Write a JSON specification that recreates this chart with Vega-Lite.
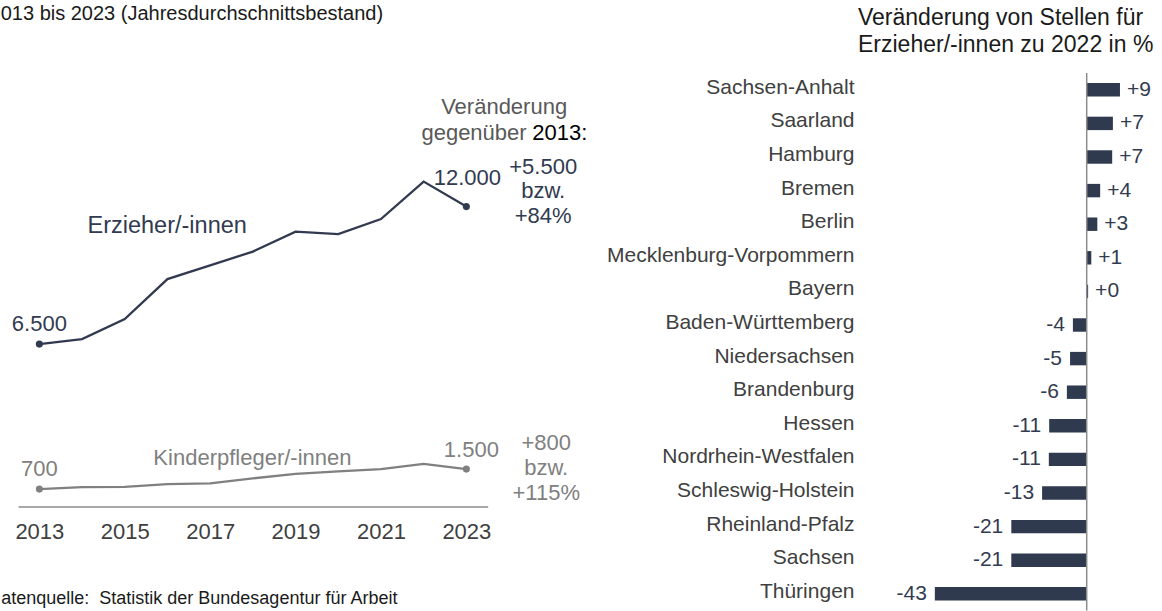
{
  "$schema": "https://vega.github.io/schema/vega-lite/v6.json",
  "padding": {"left": 0, "top": 4, "right": 0, "bottom": 0},
  "autosize": {"type": "pad"},
  "config": {
    "font": "Liberation Sans",
    "view": {"stroke": null},
    "locale": {"number": {"decimal": ",", "thousands": ".", "grouping": [3], "currency": ["", " €"], "minus": "-"}}
  },
  "bounds": "flush",
  "spacing": 421.7,
  "datasets": {
    "jobs": [
      {"year": 2013, "series": "Erzieher/-innen", "value": 6500},
      {"year": 2014, "series": "Erzieher/-innen", "value": 6700},
      {"year": 2015, "series": "Erzieher/-innen", "value": 7500},
      {"year": 2016, "series": "Erzieher/-innen", "value": 9100},
      {"year": 2017, "series": "Erzieher/-innen", "value": 9650},
      {"year": 2018, "series": "Erzieher/-innen", "value": 10200},
      {"year": 2019, "series": "Erzieher/-innen", "value": 11000},
      {"year": 2020, "series": "Erzieher/-innen", "value": 10900},
      {"year": 2021, "series": "Erzieher/-innen", "value": 11500},
      {"year": 2022, "series": "Erzieher/-innen", "value": 13000},
      {"year": 2023, "series": "Erzieher/-innen", "value": 12000},
      {"year": 2013, "series": "Kinderpfleger/-innen", "value": 700},
      {"year": 2014, "series": "Kinderpfleger/-innen", "value": 780},
      {"year": 2015, "series": "Kinderpfleger/-innen", "value": 790},
      {"year": 2016, "series": "Kinderpfleger/-innen", "value": 900},
      {"year": 2017, "series": "Kinderpfleger/-innen", "value": 930},
      {"year": 2018, "series": "Kinderpfleger/-innen", "value": 1130},
      {"year": 2019, "series": "Kinderpfleger/-innen", "value": 1310},
      {"year": 2020, "series": "Kinderpfleger/-innen", "value": 1410},
      {"year": 2021, "series": "Kinderpfleger/-innen", "value": 1500},
      {"year": 2022, "series": "Kinderpfleger/-innen", "value": 1710},
      {"year": 2023, "series": "Kinderpfleger/-innen", "value": 1500}
    ],
    "notes": [
      {"text": "+5.500", "year": 2024.8, "value": 13300, "group": "Erzieher/-innen", "align": "center"},
      {"text": "bzw.", "year": 2024.8, "value": 12340, "group": "Erzieher/-innen", "align": "center"},
      {"text": "+84%", "year": 2024.8, "value": 11340, "group": "Erzieher/-innen", "align": "center"},
      {"text": "Kinderpfleger/-innen", "year": 2015.67, "value": 1660, "group": "Kinderpfleger/-innen", "align": "left"},
      {"text": "+800", "year": 2024.87, "value": 2280, "group": "Kinderpfleger/-innen", "align": "center"},
      {"text": "bzw.", "year": 2024.87, "value": 1280, "group": "Kinderpfleger/-innen", "align": "center"},
      {"text": "+115%", "year": 2024.87, "value": 280, "group": "Kinderpfleger/-innen", "align": "center"},
      {"text": "Veränderung", "year": 2023.885, "value": 15700, "group": "Kopf", "align": "center"},
      {"text": "gegenüber", "year": 2024.412, "value": 14660, "group": "Kopf", "align": "right"},
      {"text": "2013:", "year": 2024.546, "value": 14660, "group": "Jahr", "align": "left"}
    ],
    "names": [
      {"text": "Erzieher/-innen", "year": 2017.86, "value": 10950, "group": "Erzieher/-innen"}
    ]
  },
  "hconcat": [
    {
      "width": 469.7,
      "height": 433.6,
      "title": {"text": "013 bis 2023 (Jahresdurchschnittsbestand)", "anchor": "start", "frame": "group", "dx": -17.3, "offset": 48.8, "fontSize": 20, "fontWeight": "normal", "color": "#1a1a1a"},
      "layer": [
        {
          "data": {"name": "jobs"},
          "mark": {"type": "line", "strokeWidth": 2.3},
          "encoding": {
            "x": {"field": "year", "type": "quantitative", "scale": {"domain": [2012.5, 2023.5], "nice": false, "zero": false},
              "axis": {"values": [2013, 2015, 2017, 2019, 2021, 2023], "format": "d", "labelFontSize": 22, "labelColor": "#404040", "ticks": false, "grid": false, "domainColor": "#8c8c8c", "domainWidth": 1.5, "labelPadding": 32, "labelBaseline": "alphabetic", "labelFlush": false,
                "title": "atenquelle:\u00a0 Statistik der Bundesagentur für Arbeit", "titleAnchor": "start", "titleAlign": "left", "titleBaseline": "alphabetic", "titleX": -17.3, "titleY": 97, "titleFontSize": 18, "titleFontWeight": "normal", "titleColor": "#1a1a1a"}},
            "y": {"field": "value", "type": "quantitative", "scale": {"domain": [0, 17344], "nice": false}, "axis": null},
            "color": {"field": "series", "type": "nominal", "scale": {"domain": ["Erzieher/-innen", "Kinderpfleger/-innen", "Kopf", "Jahr"], "range": ["#323a50", "#808080", "#595959", "#000000"]}, "legend": null}
          }
        },
        {
          "data": {"name": "jobs"},
          "transform": [{"filter": "datum.year == 2013 || datum.year == 2023"}],
          "mark": {"type": "circle", "size": 50, "opacity": 1},
          "encoding": {
            "x": {"field": "year", "type": "quantitative"},
            "y": {"field": "value", "type": "quantitative"},
            "color": {"field": "series", "type": "nominal", "legend": null}
          }
        },
        {
          "data": {"name": "jobs"},
          "transform": [{"filter": "datum.year == 2013"}],
          "mark": {"type": "text", "fontSize": 22, "baseline": "alphabetic", "dy": -13},
          "encoding": {
            "x": {"field": "year", "type": "quantitative"},
            "y": {"field": "value", "type": "quantitative"},
            "color": {"field": "series", "type": "nominal", "legend": null},
            "text": {"field": "value", "type": "quantitative", "format": ",.0f"}
          }
        },
        {
          "data": {"name": "jobs"},
          "transform": [{"filter": "datum.year == 2023 && datum.series == 'Erzieher/-innen'"}],
          "mark": {"type": "text", "fontSize": 22, "baseline": "alphabetic", "dy": -22, "dx": 1},
          "encoding": {
            "x": {"field": "year", "type": "quantitative"},
            "y": {"field": "value", "type": "quantitative"},
            "color": {"field": "series", "type": "nominal", "legend": null},
            "text": {"field": "value", "type": "quantitative", "format": ",.0f"}
          }
        },
        {
          "data": {"name": "jobs"},
          "transform": [{"filter": "datum.year == 2023 && datum.series == 'Kinderpfleger/-innen'"}],
          "mark": {"type": "text", "fontSize": 22, "baseline": "alphabetic", "dy": -12, "dx": 5},
          "encoding": {
            "x": {"field": "year", "type": "quantitative"},
            "y": {"field": "value", "type": "quantitative"},
            "color": {"field": "series", "type": "nominal", "legend": null},
            "text": {"field": "value", "type": "quantitative", "format": ",.0f"}
          }
        },
        {
          "data": {"name": "names"},
          "mark": {"type": "text", "fontSize": 23.5, "baseline": "alphabetic", "align": "right"},
          "encoding": {
            "x": {"field": "year", "type": "quantitative"},
            "y": {"field": "value", "type": "quantitative"},
            "text": {"field": "text", "type": "nominal"},
            "color": {"field": "group", "type": "nominal", "legend": null}
          }
        },
        {
          "data": {"name": "notes"},
          "transform": [{"filter": "datum.align == 'center'"}],
          "mark": {"type": "text", "fontSize": 22, "baseline": "alphabetic", "align": "center"},
          "encoding": {
            "x": {"field": "year", "type": "quantitative"},
            "y": {"field": "value", "type": "quantitative"},
            "text": {"field": "text", "type": "nominal"},
            "color": {"field": "group", "type": "nominal", "legend": null}
          }
        },
        {
          "data": {"name": "notes"},
          "transform": [{"filter": "datum.align == 'left'"}],
          "mark": {"type": "text", "fontSize": 22, "baseline": "alphabetic", "align": "left"},
          "encoding": {
            "x": {"field": "year", "type": "quantitative"},
            "y": {"field": "value", "type": "quantitative"},
            "text": {"field": "text", "type": "nominal"},
            "color": {"field": "group", "type": "nominal", "legend": null}
          }
        },
        {
          "data": {"name": "notes"},
          "transform": [{"filter": "datum.align == 'right'"}],
          "mark": {"type": "text", "fontSize": 22, "baseline": "alphabetic", "align": "right"},
          "encoding": {
            "x": {"field": "year", "type": "quantitative"},
            "y": {"field": "value", "type": "quantitative"},
            "text": {"field": "text", "type": "nominal"},
            "color": {"field": "group", "type": "nominal", "legend": null}
          }
        }
      ]
    },
    {
      "width": 230.1,
      "height": 537.6,
      "title": {"text": ["Veränderung von Stellen für", "Erzieher/-innen zu 2022 in %"], "anchor": "start", "frame": "group", "dx": -51.7, "offset": 15.2, "fontSize": 23, "fontWeight": "normal", "color": "#1a1a1a", "lineHeight": 26.6},
      "data": {"values": [
        {"land": "Sachsen-Anhalt", "change": 9.4},
        {"land": "Saarland", "change": 7.4},
        {"land": "Hamburg", "change": 7.2},
        {"land": "Bremen", "change": 3.8},
        {"land": "Berlin", "change": 3.0},
        {"land": "Mecklenburg-Vorpommern", "change": 1.3},
        {"land": "Bayern", "change": 0.4},
        {"land": "Baden-Württemberg", "change": -3.9},
        {"land": "Niedersachsen", "change": -4.7},
        {"land": "Brandenburg", "change": -5.6},
        {"land": "Hessen", "change": -10.6},
        {"land": "Nordrhein-Westfalen", "change": -10.7},
        {"land": "Schleswig-Holstein", "change": -12.6},
        {"land": "Rheinland-Pfalz", "change": -21.3},
        {"land": "Sachsen", "change": -21.3},
        {"land": "Thüringen", "change": -42.9}
      ]},
      "layer": [
        {
          "mark": {"type": "bar", "color": "#2f3a4f"},
          "encoding": {
            "y": {"field": "land", "type": "nominal", "sort": null, "scale": {"paddingInner": 0.6, "paddingOuter": 0.3},
              "axis": {"title": null, "ticks": false, "domain": false, "labelFontSize": 21, "labelColor": "#404040", "labelPadding": 55.7, "labelOffset": -2, "labelLimit": 400}},
            "x": {"field": "change", "type": "quantitative", "scale": {"domain": [-50, 15], "nice": false, "zero": false}, "axis": null}
          }
        },
        {
          "data": {"values": [{}]},
          "mark": {"type": "rule", "color": "#8c8c8c", "strokeWidth": 1.5},
          "encoding": {"x": {"datum": 0}}
        },
        {
          "transform": [{"filter": "datum.change >= 0"}],
          "mark": {"type": "text", "align": "left", "baseline": "middle", "dx": 7, "fontSize": 21, "color": "#333b50"},
          "encoding": {
            "y": {"field": "land", "type": "nominal", "sort": null},
            "x": {"field": "change", "type": "quantitative"},
            "text": {"field": "change", "type": "quantitative", "format": "+.0f"}
          }
        },
        {
          "transform": [{"filter": "datum.change < 0"}],
          "mark": {"type": "text", "align": "right", "baseline": "middle", "dx": -8, "fontSize": 21, "color": "#333b50"},
          "encoding": {
            "y": {"field": "land", "type": "nominal", "sort": null},
            "x": {"field": "change", "type": "quantitative"},
            "text": {"field": "change", "type": "quantitative", "format": "+.0f"}
          }
        }
      ]
    }
  ]
}
